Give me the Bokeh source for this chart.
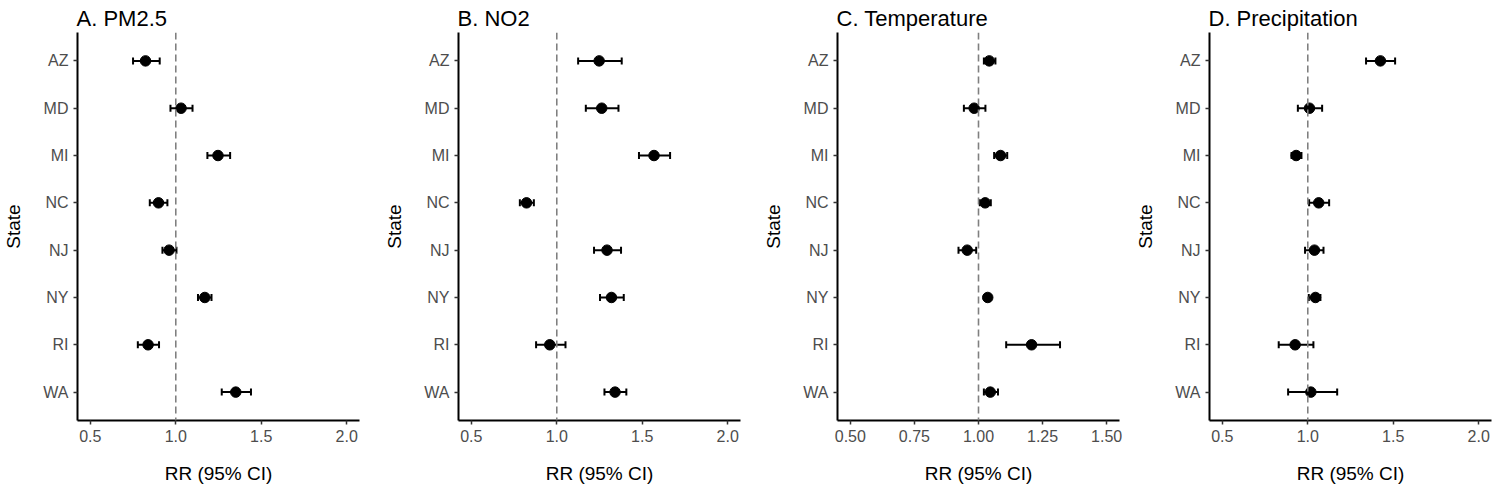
from bokeh.plotting import figure
from bokeh.models import ColumnDataSource, Whisker, TeeHead, Span, Range1d, FactorRange, FixedTicker
from bokeh.layouts import row
from bokeh.embed import file_html
from bokeh.resources import INLINE

states = ["AZ", "MD", "MI", "NC", "NJ", "NY", "RI", "WA"]

# A. PM2.5
pm25_est = [0.823, 1.031, 1.247, 0.899, 0.961, 1.170, 0.838, 1.351]
pm25_lo = [0.750, 0.969, 1.185, 0.848, 0.922, 1.130, 0.778, 1.269]
pm25_hi = [0.906, 1.098, 1.318, 0.951, 1.004, 1.209, 0.902, 1.440]

# B. NO2
no2_est = [1.248, 1.263, 1.569, 0.823, 1.294, 1.320, 0.959, 1.341]
no2_lo = [1.125, 1.170, 1.481, 0.784, 1.218, 1.253, 0.879, 1.279]
no2_hi = [1.380, 1.361, 1.663, 0.866, 1.376, 1.392, 1.051, 1.407]

# C. Temperature
temp_est = [1.042, 0.983, 1.086, 1.026, 0.956, 1.036, 1.207, 1.046]
temp_lo = [1.021, 0.943, 1.061, 1.005, 0.922, 1.029, 1.108, 1.021]
temp_hi = [1.066, 1.027, 1.112, 1.048, 0.991, 1.044, 1.318, 1.076]

# D. Precipitation
prec_est = [1.425, 1.010, 0.932, 1.064, 1.039, 1.045, 0.926, 1.018]
prec_lo = [1.341, 0.942, 0.905, 1.008, 0.984, 1.006, 0.830, 0.885]
prec_hi = [1.511, 1.084, 0.963, 1.125, 1.092, 1.074, 1.033, 1.172]

ticks_wide = [0.5, 1.0, 1.5, 2.0]
ticks_wide_labels = ["0.5", "1.0", "1.5", "2.0"]
ticks_temp = [0.50, 0.75, 1.00, 1.25, 1.50]
ticks_temp_labels = ["0.50", "0.75", "1.00", "1.25", "1.50"]

titles = ["A. PM2.5", "B. NO2", "C. Temperature", "D. Precipitation"]
x_title = "RR (95% CI)"
y_title = "State"

FONT = "Liberation Sans"


def make_panel(title, est, lo, hi, xmin, xmax, ticks, tick_labels, bl, br):
    pad = 0.05 * (xmax - xmin)
    p = figure(
        frame_width=282, frame_height=388,
        y_range=FactorRange(*states[::-1], range_padding=0.1, range_padding_units="absolute"),
        x_range=Range1d(xmin - pad, xmax + pad),
        output_backend="svg", toolbar_location=None,
        min_border_left=bl, min_border_right=br, min_border_top=32, min_border_bottom=40,
    )
    p.title.text = title
    p.title.text_font = FONT
    p.title.text_font_size = "22px"
    p.title.text_font_style = "normal"
    p.title.text_color = "black"
    p.title.align = "left"
    p.title.offset = -1
    p.title.standoff = 3

    src = ColumnDataSource(dict(state=states, est=est, lo=lo, hi=hi))
    p.add_layout(Span(location=1.0, dimension="height", line_color="#7f7f7f",
                      line_width=1.6, line_dash="7 4"))
    p.add_layout(Whisker(source=src, base="state", lower="lo", upper="hi", dimension="width",
                         line_color="black", line_width=2,
                         lower_head=TeeHead(size=7, line_width=2, line_color="black"),
                         upper_head=TeeHead(size=7, line_width=2, line_color="black")))
    p.scatter(x="est", y="state", source=src, size=10.5, color="black")

    p.xgrid.visible = False
    p.ygrid.visible = False
    p.outline_line_color = None
    p.background_fill_color = "white"
    p.border_fill_color = "white"

    p.xaxis.ticker = FixedTicker(ticks=ticks)
    p.xaxis.major_label_overrides = {t: l for t, l in zip(ticks, tick_labels)}
    for ax in (p.xaxis[0], p.yaxis[0]):
        ax.axis_line_width = 2
        ax.axis_line_color = "black"
        ax.major_tick_in = 0
        ax.major_tick_out = 4
        ax.major_tick_line_color = "#333333"
        ax.major_tick_line_width = 1.5
        ax.minor_tick_line_color = None
        ax.major_label_text_font = FONT
        ax.major_label_text_font_size = "16px"
        ax.major_label_text_color = "#4d4d4d"
        ax.axis_label_text_font = FONT
        ax.axis_label_text_font_size = "19px"
        ax.axis_label_text_font_style = "normal"
        ax.axis_label_text_color = "black"
    p.xaxis.axis_label = x_title
    p.xaxis.axis_label_standoff = 18
    p.xaxis.major_label_standoff = 5
    p.yaxis.axis_label = y_title
    p.yaxis.axis_label_standoff = 16
    p.yaxis.major_label_standoff = 5
    return p


pA = make_panel(titles[0], pm25_est, pm25_lo, pm25_hi, 0.5, 2.0, ticks_wide, ticks_wide_labels, 75, 22)
pB = make_panel(titles[1], no2_est, no2_lo, no2_hi, 0.5, 2.0, ticks_wide, ticks_wide_labels, 75, 17)
pC = make_panel(titles[2], temp_est, temp_lo, temp_hi, 0.5, 1.5, ticks_temp, ticks_temp_labels, 80, 13)
pD = make_panel(titles[3], prec_est, prec_lo, prec_hi, 0.5, 2.0, ticks_wide, ticks_wide_labels, 76, 2)

layout = row(pA, pB, pC, pD)
open("out.html", "w").write(file_html(layout, INLINE))
